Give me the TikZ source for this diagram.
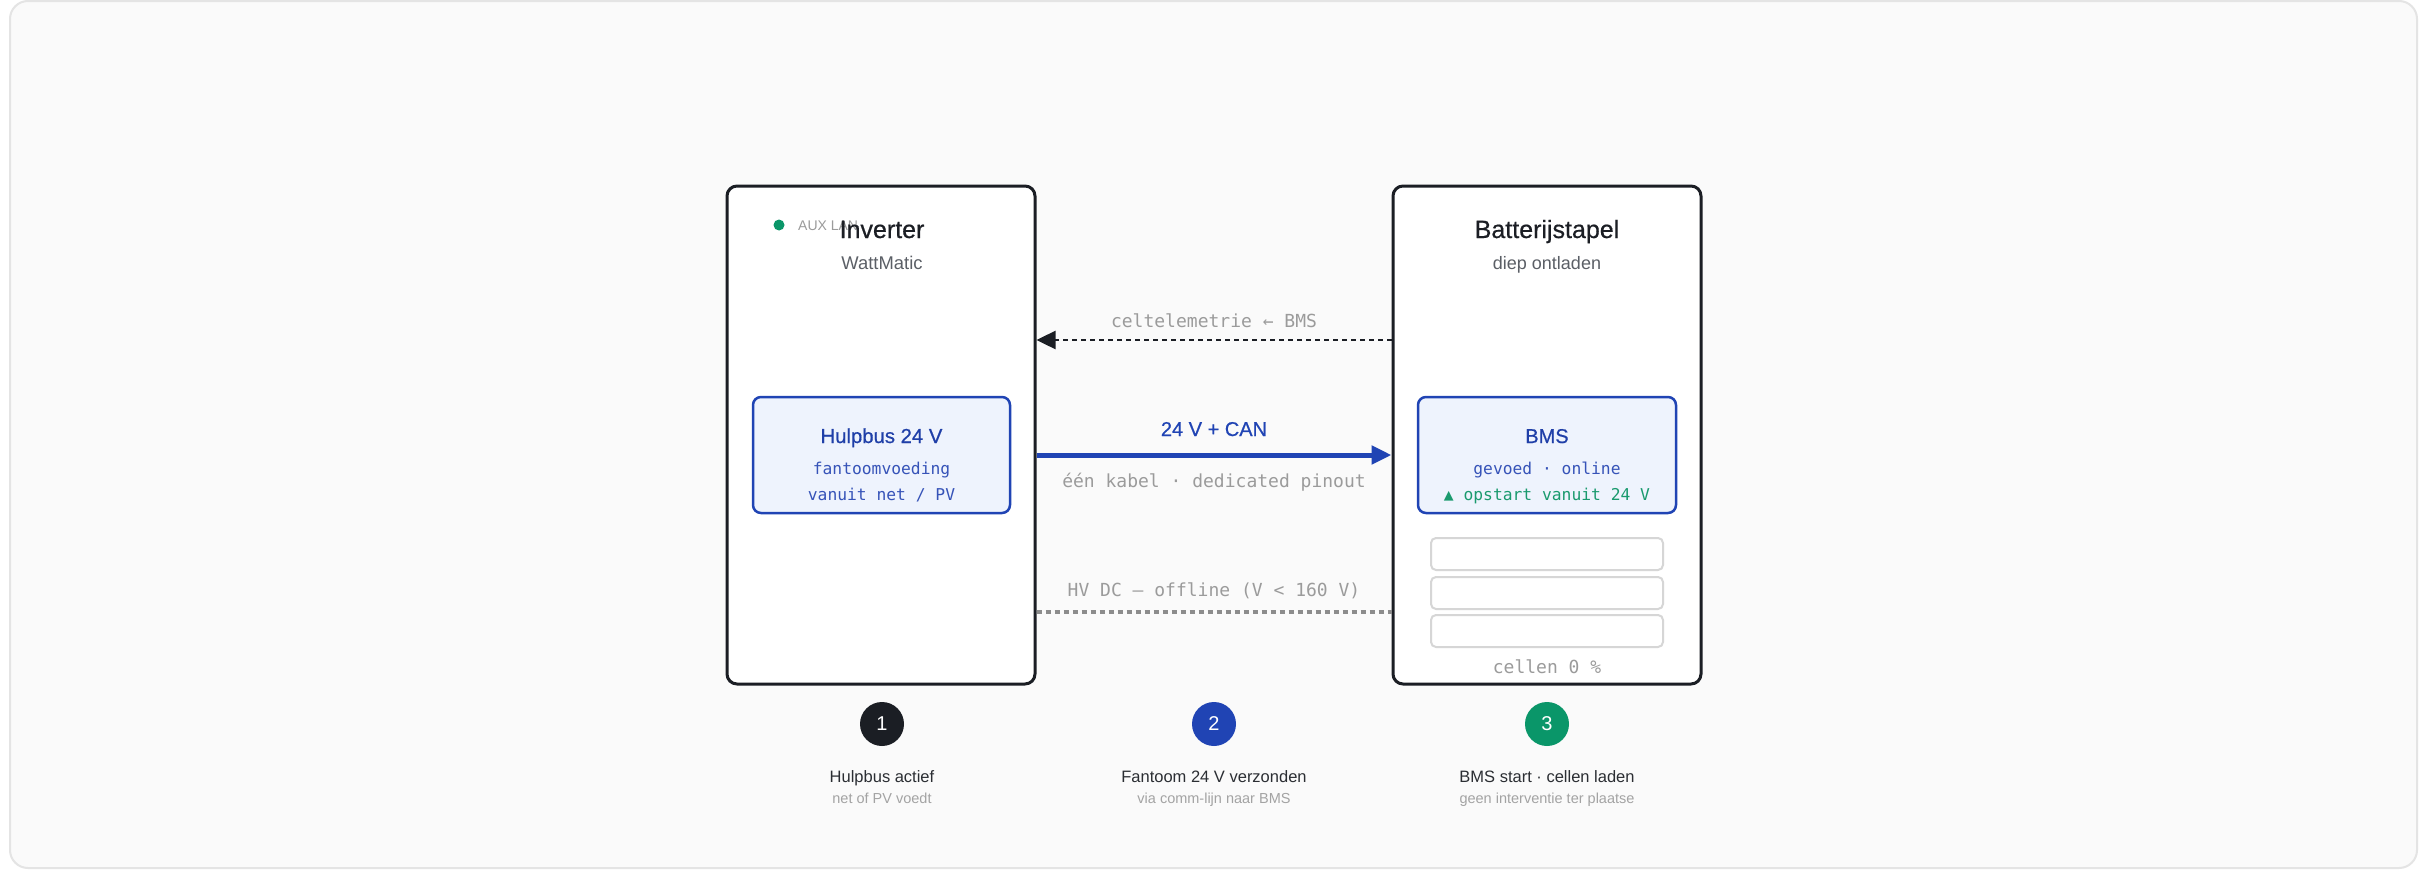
\documentclass[tikz,border=0pt]{standalone}
\usepackage{fontspec}
\setmainfont{Liberation Sans}
\newfontfamily\monofont{DejaVu Sans Mono}
\newfontfamily\medfont{Liberation Sans}[FakeBold=0.6]
\usetikzlibrary{arrows.meta}
\definecolor{cbg}{HTML}{FAFAFA}
\definecolor{cframe}{HTML}{E4E4E4}
\definecolor{cdark}{HTML}{1B1E24}
\definecolor{csub}{HTML}{5B5F66}
\definecolor{clgray}{HTML}{9B9B9B}
\definecolor{cdash}{HTML}{8C8C8C}
\definecolor{cblue}{HTML}{2044B4}
\definecolor{cbluetext}{HTML}{1F3FA8}
\definecolor{cbluemono}{HTML}{3653B8}
\definecolor{cboxfill}{HTML}{EEF3FD}
\definecolor{cgreen}{HTML}{0A9669}
\definecolor{cgreentext}{HTML}{1A9A6E}
\definecolor{ccell}{HTML}{D6D6D6}
\definecolor{cbtitle}{HTML}{2B2E33}
\definecolor{cbsub}{HTML}{A3A3A3}
\newcommand\myfs[1]{\fontsize{#1}{#1}\selectfont}
\begin{document}
\begin{tikzpicture}[x=1pt,y=-1pt,
  mainbox/.style={draw=cdark, line width=3pt, rounded corners=10pt, fill=white, inner sep=0, minimum width=308pt, minimum height=498pt},
  innerbox/.style={draw=cblue, line width=2.5pt, rounded corners=8pt, fill=cboxfill, inner sep=0, minimum width=257pt, minimum height=116pt},
  cellbox/.style={draw=ccell, line width=2pt, rounded corners=5pt, fill=white, minimum width=232pt, minimum height=32pt, inner sep=0},
  txt/.style={inner sep=0, anchor=base},
  stepc/.style={circle, minimum size=44pt, inner sep=0, text=white, font=\myfs{20}},
  monolbl/.style={txt, font=\monofont\myfs{18}, text=clgray},
  innermono/.style={txt, font=\monofont\myfs{16.3}},
  btitle/.style={txt, font=\myfs{16.5}, text=cbtitle},
  bsub/.style={txt, font=\myfs{14.5}, text=cbsub},
]
\useasboundingbox (0,0) rectangle (2426,870);
\fill[white] (0,0) rectangle (2426,870);
\draw[draw=cframe, fill=cbg, line width=2pt, rounded corners=18pt] (10,1) rectangle (2417,868);

% main boxes
\node[mainbox] (inv) at (881,435) {};
\node[mainbox] (bat) at (1547,435) {};

% inverter header
\node[circle, fill=cgreen, minimum size=11pt, inner sep=0] (dot) at (779,225) {};
\node[txt, anchor=base west, font=\myfs{14}, text=clgray] (aux) at (798,230) {AUX LAN};
\node[txt, font=\medfont\myfs{25}, text=cdark] (invt) at (882,238) {Inverter};
\node[txt, font=\myfs{18.4}, text=csub] (invs) at (882,269) {WattMatic};

% battery header
\node[txt, font=\medfont\myfs{25}, text=cdark] (batt) at (1547,238) {Batterijstapel};
\node[txt, font=\myfs{18}, text=csub] (bats) at (1547,269) {diep ontladen};

% inner boxes
\node[innerbox] (hb) at (881.5,455) {};
\node[txt, font=\medfont\myfs{20.3}, text=cbluetext] (hbt) at (881.5,443) {Hulpbus 24 V};
\node[innermono, text=cbluemono] (hb1) at (881.5,474) {fantoomvoeding};
\node[innermono, text=cbluemono] (hb2) at (881.5,500) {vanuit net / PV};

\node[innerbox, minimum width=258pt] (bms) at (1547,455) {};
\node[txt, font=\medfont\myfs{20}, text=cbluetext] (bmst) at (1547,443) {BMS};
\node[innermono, text=cbluemono] (bms1) at (1547,474) {gevoed · online};
\node[innermono, text=cgreentext] (bms2) at (1547,500) {▲ opstart vanuit 24 V};

% cells
\node[cellbox] (c1) at (1547,554) {};
\node[cellbox] (c2) at (1547,593) {};
\node[cellbox] (c3) at (1547,631) {};
\node[monolbl] (cl) at (1547,673) {cellen 0 \%};

% connectors
\coordinate (yt) at (0,340);
\coordinate (yc) at (0,455);
\coordinate (yh) at (0,612);
\draw[cdark, line width=2.5pt, dash pattern=on 5pt off 4pt, -{Triangle[length=19pt,width=18pt]}] (bat.west |- yt) -- (inv.east |- yt);
\draw[cblue, line width=5pt, -{Triangle[length=20pt,width=18pt]}] (inv.east |- yc) -- (bat.west |- yc);
\draw[cdash, line width=3.5pt, dash pattern=on 5pt off 4pt] (inv.east |- yh) -- (bat.west |- yh);

\node[monolbl] (lt) at (1214,327) {celtelemetrie ← BMS};
\node[txt, font=\medfont\myfs{20}, text=cblue] (lc) at (1214,436) {24 V + CAN};
\node[monolbl] (lk) at (1214,487) {één kabel · dedicated pinout};
\node[monolbl] (lh) at (1214,596) {HV DC — offline (V < 160 V)};

% steps
\node[stepc, fill=cdark] (s1) at (882,724) {1};
\node[stepc, fill=cblue] (s2) at (1214,724) {2};
\node[stepc, fill=cgreen] (s3) at (1547,724) {3};

\node[btitle] (b1) at (882,782) {Hulpbus actief};
\node[bsub] (b1s) at (882,803) {net of PV voedt};
\node[btitle] (b2) at (1214,782) {Fantoom 24 V verzonden};
\node[bsub] (b2s) at (1214,803) {via comm-lijn naar BMS};
\node[btitle] (b3) at (1547,782) {BMS start · cellen laden};
\node[bsub] (b3s) at (1547,803) {geen interventie ter plaatse};
\end{tikzpicture}
\end{document}
